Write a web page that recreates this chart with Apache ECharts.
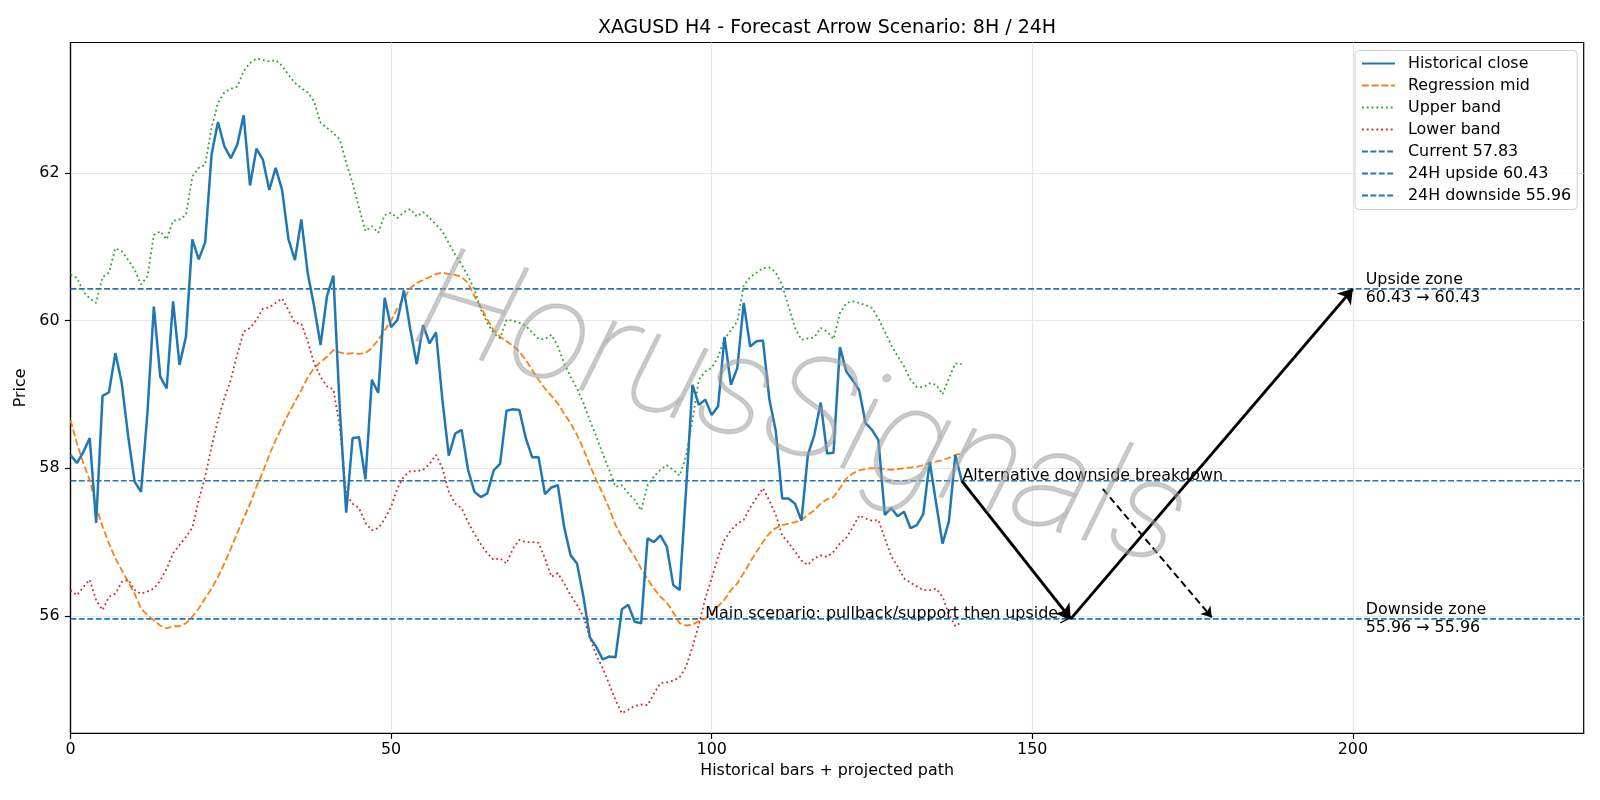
<!DOCTYPE html>
<html>
<head>
<meta charset="utf-8">
<script src="https://cdn.jsdelivr.net/npm/echarts@6/dist/echarts.min.js"></script>
<style>
  html, body { margin: 0; padding: 0; background: #fff; }
  #chart { width: 1600px; height: 800px; }
</style>
</head>
<body>
<div id="chart"></div>
<script>
// values, one per bar (index 0..139)
const closeVals = [
  58.18, 58.07, 58.22, 58.41, 57.26, 58.98, 59.03, 59.56, 59.15, 58.43,
  57.82, 57.68, 58.75, 60.19, 59.24, 59.08, 60.26, 59.40, 59.78, 61.10,
  60.83, 61.06, 62.25, 62.69, 62.36, 62.20, 62.38, 62.78, 61.83, 62.33,
  62.18, 61.77, 62.07, 61.77, 61.10, 60.82, 61.37, 60.64, 60.19, 59.67,
  60.33, 60.61, 58.80, 57.40, 58.41, 58.42, 57.85, 59.20, 59.02, 60.31,
  59.91, 60.01, 60.41, 59.88, 59.41, 59.94, 59.69, 59.84, 58.93, 58.17,
  58.47, 58.52, 57.98, 57.68, 57.61, 57.66, 57.97, 58.06, 58.78, 58.80,
  58.79, 58.41, 58.15, 58.15, 57.65, 57.74, 57.77, 57.20, 56.82, 56.71,
  56.26, 55.71, 55.58, 55.41, 55.45, 55.44, 56.09, 56.15, 55.92, 55.90,
  57.05, 57.00, 57.09, 56.94, 56.42, 56.35, 57.70, 59.13, 58.86, 58.93,
  58.72, 58.84, 59.78, 59.13, 59.36, 60.24, 59.65, 59.72, 59.73, 58.93,
  58.50, 57.59, 57.59, 57.52, 57.29, 58.18, 58.45, 58.89, 58.20, 58.21,
  59.64, 59.31, 59.19, 59.06, 58.61, 58.52, 58.38, 57.37, 57.46, 57.35,
  57.41, 57.19, 57.23, 57.38, 58.09, 57.53, 56.98, 57.28, 58.18, 57.83
];
const midVals = [
  58.65, 58.34, 58.07, 57.84, 57.48, 57.21, 56.98, 56.78, 56.62, 56.46,
  56.30, 56.10, 56.01, 55.94, 55.87, 55.83, 55.86, 55.86, 55.90, 55.99,
  56.10, 56.24, 56.37, 56.53, 56.71, 56.91, 57.12, 57.32, 57.52, 57.75,
  57.95, 58.18, 58.38, 58.56, 58.74, 58.90, 59.06, 59.23, 59.36, 59.44,
  59.51, 59.60, 59.57, 59.55, 59.56, 59.55, 59.56, 59.63, 59.74, 59.87,
  60.00, 60.17, 60.30, 60.44, 60.51, 60.55, 60.59, 60.63, 60.65, 60.63,
  60.62, 60.59, 60.51, 60.33, 60.18, 60.02, 59.87, 59.78, 59.72, 59.66,
  59.58, 59.47, 59.33, 59.20, 59.08, 58.98, 58.88, 58.74, 58.61, 58.45,
  58.26, 58.04, 57.84, 57.66, 57.46, 57.23, 57.07, 56.93, 56.80, 56.64,
  56.50, 56.37, 56.26, 56.18, 56.05, 55.90, 55.87, 55.88, 55.93, 55.96,
  56.03, 56.13, 56.22, 56.35, 56.44, 56.58, 56.73, 56.87, 57.00, 57.12,
  57.19, 57.23, 57.25, 57.27, 57.30, 57.37, 57.43, 57.52, 57.58, 57.61,
  57.73, 57.86, 57.93, 57.97, 57.99, 58.00, 58.00, 57.99, 57.98, 57.99,
  58.00, 58.01, 58.02, 58.04, 58.07, 58.09, 58.11, 58.14, 58.18, 58.20
];
const upperVals = [
  60.62, 60.58, 60.39, 60.30, 60.24, 60.59, 60.65, 60.98, 60.94, 60.82,
  60.69, 60.49, 60.60, 61.16, 61.21, 61.10, 61.35, 61.37, 61.43, 61.95,
  62.07, 62.11, 62.61, 62.95, 63.09, 63.14, 63.17, 63.38, 63.49, 63.55,
  63.53, 63.51, 63.53, 63.45, 63.33, 63.22, 63.15, 63.09, 62.97, 62.68,
  62.61, 62.54, 62.45, 62.14, 61.86, 61.53, 61.21, 61.28, 61.19, 61.43,
  61.46, 61.39, 61.47, 61.51, 61.41, 61.47, 61.39, 61.30, 61.21, 61.05,
  60.89, 60.76, 60.60, 60.42, 60.15, 59.97, 59.83, 59.76, 60.01, 60.00,
  59.97, 59.93, 59.84, 59.75, 59.75, 59.81, 59.65, 59.42, 59.24, 59.08,
  58.88, 58.65, 58.43, 58.20, 57.98, 57.75, 57.77, 57.66, 57.57, 57.43,
  57.77, 57.89, 57.98, 58.04, 57.98, 57.90, 58.16, 58.65, 59.20, 59.31,
  59.36, 59.51, 59.75, 59.87, 59.99, 60.48, 60.59, 60.65, 60.71, 60.72,
  60.65, 60.48, 60.19, 59.90, 59.74, 59.76, 59.77, 59.90, 59.85, 59.75,
  60.10, 60.24, 60.26, 60.24, 60.21, 60.17, 60.03, 59.85, 59.67, 59.52,
  59.38, 59.20, 59.10, 59.10, 59.15, 59.13, 59.00, 59.22, 59.42, 59.41
];
const lowerVals = [
  56.35, 56.28, 56.39, 56.49, 56.21, 56.08, 56.26, 56.30, 56.46, 56.49,
  56.35, 56.30, 56.33, 56.37, 56.48, 56.64, 56.85, 56.96, 57.07, 57.19,
  57.57, 57.89, 58.29, 58.65, 58.95, 59.20, 59.54, 59.85, 59.90, 60.01,
  60.16, 60.18, 60.24, 60.30, 60.14, 59.97, 59.96, 59.72, 59.42, 59.24,
  59.11, 59.07, 58.56, 57.64, 57.52, 57.46, 57.26, 57.16, 57.19, 57.31,
  57.48, 57.73, 57.89, 57.96, 57.96, 57.98, 58.06, 58.18, 58.00, 57.68,
  57.52, 57.46, 57.27, 57.11, 56.97, 56.85, 56.76, 56.78, 56.71, 56.91,
  57.03, 57.00, 57.00, 56.99, 56.78, 56.53, 56.58, 56.44, 56.28, 56.15,
  55.99, 55.71, 55.47, 55.29, 55.08, 54.86, 54.68, 54.73, 54.78, 54.80,
  54.79, 54.95, 55.09, 55.10, 55.12, 55.17, 55.31, 55.58, 55.88, 56.24,
  56.51, 56.80, 57.03, 57.16, 57.25, 57.30, 57.47, 57.60, 57.73, 57.56,
  57.37, 57.09, 56.99, 56.87, 56.75, 56.69, 56.78, 56.82, 56.80, 56.87,
  56.98, 57.06, 57.20, 57.36, 57.32, 57.29, 57.30, 57.05, 56.81, 56.67,
  56.51, 56.45, 56.40, 56.35, 56.35, 56.37, 56.26, 56.02, 55.86, 55.92
];

const currentLevel = 57.83;
const upsideLevel = 60.43;
const downsideLevel = 55.96;

// projected path (bar index, price)
const mainPath = [[139, 57.83], [156, 55.96], [200, 60.43]];
const altPath = [[161, 57.72], [178, 55.98]];

const xTicks = [0, 50, 100, 150, 200];
const yTicks = [56, 58, 60, 62];
const xMax = 236;
const yMin = 54.41;
const yMax = 63.767;

const FONT = 'DejaVu Sans';
const FS = 15.9;

function pairs(vals) {
  return vals.map(function (v, i) { return [i, v]; });
}
function levelLine(v) {
  return [[0, v], [xMax, v]];
}
const fmt = function (v) { return v.toFixed(2); };

const chart = echarts.init(document.getElementById('chart'), null, { renderer: 'canvas' });

const levelStyle = { color: '#1f77b4', width: 1.6, type: [5.9, 2.5] };

const option = {
  animation: false,
  backgroundColor: '#fff',
  textStyle: { fontFamily: FONT },
  title: {
    text: 'XAGUSD H4 - Forecast Arrow Scenario: 8H / 24H',
    left: 822,
    textAlign: 'center',
    top: 14,
    textStyle: { fontFamily: FONT, fontSize: 19, fontWeight: 'normal', color: '#000' }
  },
  grid: {
    left: 70.5, right: 16.3, top: 42.5, bottom: 66.7,
    show: true, borderColor: '#000', borderWidth: 1.2, backgroundColor: 'transparent'
  },
  legend: {
    orient: 'vertical',
    left: 1355, top: 50.5,
    padding: [5, 6, 6, 6],
    itemWidth: 33, itemHeight: 16, itemGap: 6,
    backgroundColor: 'rgba(255,255,255,0.8)',
    borderColor: '#d0d0d0', borderWidth: 1, borderRadius: 4,
    itemStyle: { opacity: 0 },
    textStyle: { fontFamily: FONT, fontSize: FS, lineHeight: 16, color: '#000', padding: [0, 0, 0, 8] },
    data: ['Historical close', 'Regression mid', 'Upper band', 'Lower band',
      'Current ' + fmt(currentLevel), '24H upside ' + fmt(upsideLevel), '24H downside ' + fmt(downsideLevel)]
  },
  xAxis: {
    type: 'value', min: 0, max: xMax,
    name: 'Historical bars + projected path', nameLocation: 'middle', nameGap: 30,
    nameTextStyle: { fontFamily: FONT, fontSize: FS, color: '#000' },
    axisLine: { show: true, onZero: false, lineStyle: { color: '#000', width: 1.2 } },
    axisTick: { show: true, length: 5.6, lineStyle: { color: '#000', width: 1.2 }, customValues: xTicks },
    axisLabel: { customValues: xTicks, fontFamily: FONT, fontSize: FS, color: '#000', margin: 9 },
    splitLine: { show: true, lineStyle: { color: '#e6e6e6', width: 1.2 } }
  },
  yAxis: {
    type: 'value', min: yMin, max: yMax,
    name: 'Price', nameLocation: 'middle', nameGap: 39, nameRotate: 90,
    nameTextStyle: { fontFamily: FONT, fontSize: FS, color: '#000' },
    axisLine: { show: true, onZero: false, lineStyle: { color: '#000', width: 1.2 } },
    axisTick: { show: true, length: 5.6, lineStyle: { color: '#000', width: 1.2 }, customValues: yTicks },
    axisLabel: { customValues: yTicks, fontFamily: FONT, fontSize: FS, color: '#000', margin: 11 },
    splitLine: { show: true, lineStyle: { color: '#e6e6e6', width: 1.2 } }
  },
  graphic: [{
    type: 'text',
    x: 800, y: 418,
    rotation: -0.29,
    z: 100,
    silent: true,
    style: {
      text: 'HorusSignals',
      font: 'italic 100 142px Roboto',
      fill: 'rgba(160,160,160,0.55)',
      stroke: 'rgba(150,150,150,0.35)',
      lineWidth: 1.5,
      align: 'center',
      verticalAlign: 'middle',
      shadowColor: 'rgba(170,170,170,0.3)',
      shadowBlur: 1,
      shadowOffsetX: 4,
      shadowOffsetY: 4
    }
  }],
  series: [
    {
      name: 'Historical close', type: 'line', data: pairs(closeVals),
      symbol: 'none', z: 6,
      lineStyle: { color: '#1f77b4', width: 2.5 }, itemStyle: { color: '#1f77b4' }
    },
    {
      name: 'Regression mid', type: 'line', data: pairs(midVals),
      symbol: 'none', z: 5,
      lineStyle: { color: '#ff7f0e', width: 1.8, type: [6.8, 2.9] }, itemStyle: { color: '#ff7f0e' }
    },
    {
      name: 'Upper band', type: 'line', data: pairs(upperVals),
      symbol: 'none', z: 5,
      lineStyle: { color: '#2ca02c', width: 1.8, type: [1.8, 3.0] }, itemStyle: { color: '#2ca02c' }
    },
    {
      name: 'Lower band', type: 'line', data: pairs(lowerVals),
      symbol: 'none', z: 5,
      lineStyle: { color: '#d62728', width: 1.8, type: [1.8, 3.0] }, itemStyle: { color: '#d62728' }
    },
    {
      name: 'Current ' + fmt(currentLevel), type: 'line', data: levelLine(currentLevel),
      symbol: 'none', z: 4, lineStyle: levelStyle, itemStyle: { color: '#1f77b4' }
    },
    {
      name: '24H upside ' + fmt(upsideLevel), type: 'line', data: levelLine(upsideLevel),
      symbol: 'none', z: 4, lineStyle: levelStyle, itemStyle: { color: '#1f77b4' }
    },
    {
      name: '24H downside ' + fmt(downsideLevel), type: 'line', data: levelLine(downsideLevel),
      symbol: 'none', z: 4, lineStyle: levelStyle, itemStyle: { color: '#1f77b4' }
    },
    {
      // main scenario arrows
      type: 'lines', coordinateSystem: 'cartesian2d', z: 8,
      symbol: ['none', 'arrow'], symbolSize: 14,
      lineStyle: { color: '#000', width: 3, opacity: 1 },
      data: [
        { coords: [mainPath[0], mainPath[1]] },
        { coords: [mainPath[1], mainPath[2]] }
      ]
    },
    {
      // alternative scenario arrow
      type: 'lines', coordinateSystem: 'cartesian2d', z: 8,
      symbol: ['none', 'arrow'], symbolSize: 10,
      lineStyle: { color: '#000', width: 2, type: [7, 4], opacity: 1 },
      data: [{ coords: altPath }]
    },
    {
      // annotation texts
      type: 'scatter', symbolSize: 0, z: 9, silent: true,
      itemStyle: { opacity: 1 },
      label: {
        show: true, position: [0, 0], color: '#000', opacity: 1,
        fontFamily: FONT, fontSize: FS, lineHeight: 18,
        formatter: function (p) { return p.data.text; }
      },
      data: [
        { value: [99.0, downsideLevel], text: 'Main scenario: pullback/support then upside',
          label: { align: 'left', verticalAlign: 'bottom', offset: [0, 4] } },
        { value: [139.1, currentLevel], text: 'Alternative downside breakdown',
          label: { align: 'left', verticalAlign: 'bottom', offset: [0, 4] } },
        { value: [202.0, upsideLevel], text: 'Upside zone\n' + fmt(upsideLevel) + ' \u2192 ' + fmt(upsideLevel),
          label: { align: 'left', verticalAlign: 'middle' } },
        { value: [202.0, downsideLevel], text: 'Downside zone\n' + fmt(downsideLevel) + ' \u2192 ' + fmt(downsideLevel),
          label: { align: 'left', verticalAlign: 'middle' } }
      ]
    },
    {
      // small open arrow head at the end of the main scenario text
      type: 'scatter', z: 9, silent: true,
      symbol: 'path://M0,0L10,5L0,10', symbolSize: [8, 8],
      itemStyle: { color: 'transparent', borderColor: '#000', borderWidth: 1.3, opacity: 1 },
      data: [[155.0, downsideLevel]]
    }
  ]
};

chart.setOption(option);
</script>
</body>
</html>
